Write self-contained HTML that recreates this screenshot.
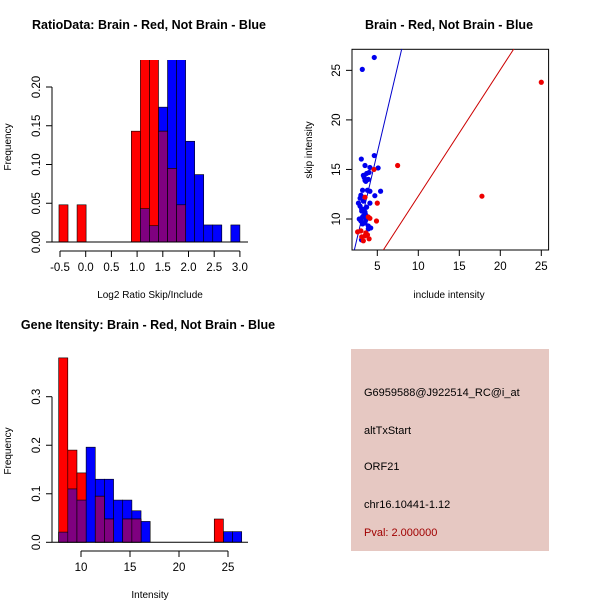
<!DOCTYPE html>
<html><head><meta charset="utf-8"><style>
body{margin:0;background:#fff}
svg{display:block;font-family:"Liberation Sans",sans-serif}
</style></head><body>
<svg id="s" width="600" height="600" viewBox="0 0 600 600">
<rect width="600" height="600" fill="#fff"/>
<defs>
<clipPath id="c1"><rect x="52" y="60" width="196" height="190"/></clipPath>
<clipPath id="c3"><rect x="352" y="49" width="197" height="201"/></clipPath>
</defs>
<text x="149" y="29" font-size="12.5" font-weight="bold" text-anchor="middle">RatioData: Brain - Red, Not Brain - Blue</text>
<text x="449" y="29" font-size="12.5" font-weight="bold" text-anchor="middle">Brain - Red, Not Brain - Blue</text>
<text x="148" y="329" font-size="12.5" font-weight="bold" text-anchor="middle">Gene Itensity: Brain - Red, Not Brain - Blue</text>
<g id="p1"></g>
<g id="p2"></g>
<g id="p3"></g>
<g>
<rect x="351" y="349" width="198" height="202" fill="#e6c8c2"/>
<text x="364" y="396" font-size="11">G6959588@J922514_RC@i_at</text>
<text x="364" y="434" font-size="11">altTxStart</text>
<text x="364" y="470" font-size="11">ORF21</text>
<text x="364" y="508" font-size="11">chr16.10441-1.12</text>
<text x="364" y="536" font-size="11" fill="#a00000">Pval: 2.000000</text>
</g>
</svg>
<script>
// Ratio histogram data
const ratioStart = -0.52, ratioWidth = 0.176;
const ratioRed = [0.048,0,0.048,0,0,0,0,0,0.143,0.25,0.25,0.143,0.095,0.048,0,0,0,0,0,0];
const ratioBlue = [0,0,0,0,0,0,0,0,0,0.043,0.021,0.174,0.25,0.25,0.13,0.087,0.022,0.022,0,0.022];
const ratioXTicks = [-0.5,0,0.5,1,1.5,2,2.5,3];
const ratioXLabels = ["-0.5","0.0","0.5","1.0","1.5","2.0","2.5","3.0"];
const ratioYTicks = [0,0.05,0.1,0.15,0.2];
const ratioYLabels = ["0.00","0.05","0.10","0.15","0.20"];
// Intensity histogram data
const intStart = 7.72, intWidth = 0.934;
const intRed = [0.38,0.19,0.143,0,0.095,0.048,0,0.048,0.048,0,0,0,0,0,0,0,0,0.048,0,0];
const intBlue = [0.021,0.11,0.087,0.196,0.13,0.13,0.087,0.087,0.065,0.043,0,0,0,0,0,0,0,0,0.022,0.022];
const intXTicks = [10,15,20,25];
const intYTicks = [0,0.1,0.2,0.3];
const intYLabels = ["0.0","0.1","0.2","0.3"];
// Scatter data
const blueX = [4.63,3.17,4.63,3.05,3.5,4.1,5.1,3.3,3.7,4.0,3.5,3.9,3.2,4.1,4.7,5.4,2.9,2.7,4.1,3.1,3.5,2.8,3.3,3.6,3.2,3.9,4.2,3.07,3.4,3.6,3.0,3.8,2.9,3.3,3.4,3.6,3.1,3.5,3.9,3.2,3.0,3.7];
const blueY = [26.3,25.1,16.4,16.05,15.4,15.2,15.15,14.4,14.6,14.7,13.9,14.0,12.9,12.8,12.35,12.8,12.1,11.6,11.6,11.0,10.7,10.0,10.3,9.9,9.5,9.3,9.1,7.9,14.2,13.8,12.4,12.9,11.3,11.8,11.0,10.4,10.8,9.6,9.0,10.2,9.8,11.2];
const redX = [25,7.48,17.76,4.6,3.5,5.0,4.1,4.9,2.6,3.0,3.5,3.3,4.0,3.8,3.1,3.6,3.9];
const redY = [23.8,15.4,12.3,15.0,12.2,11.6,10.07,9.8,8.7,8.8,8.3,7.8,8.0,8.4,8.2,8.6,10.2];
const blueLine = [-0.85, 3.51];
const redLine = [-0.44, 1.275];
const scXTicks = [5,10,15,20,25];
const scYTicks = [10,15,20,25];

const NS="http://www.w3.org/2000/svg";
function mk(parent,tag,attrs){const e=document.createElementNS(NS,tag);for(const k in attrs)e.setAttribute(k,attrs[k]);parent.appendChild(e);return e;}

function hist(g,start,width,red,blue,sx,sy,clip){
  const bars=mk(g,'g',clip?{'clip-path':clip}:{});
  blue.forEach((v,i)=>{ if(v<=0)return;
    const r=mk(bars,'rect',{x:sx(start+i*width),y:sy(v),width:sx(start+(i+1)*width)-sx(start+i*width),height:sy(0)-sy(v),fill:'#0000ff',stroke:'#000','stroke-width':0.6});
    
    
  });
  red.forEach((v,i)=>{ if(v<=0)return;
    const x0=sx(start+i*width),w=sx(start+(i+1)*width)-x0;
    const r=mk(bars,'rect',{x:x0,y:sy(v),width:w,height:sy(0)-sy(v),fill:'#ff0000',stroke:'#000','stroke-width':0.6});
    
    
    const m=Math.min(v,blue[i]);
    if(m>0){const p=mk(bars,'rect',{x:x0,y:sy(m),width:w,height:sy(0)-sy(m),fill:'#7f0080',stroke:'#000','stroke-width':0.6});
      
      }
  });
}
function xaxis(g,ticks,labels,sx,y,name){
  const a=mk(g,'g',{});
  
  
  mk(a,'line',{x1:sx(ticks[0]),x2:sx(ticks[ticks.length-1]),y1:y,y2:y,stroke:'#000'});
  ticks.forEach((t,i)=>{mk(a,'line',{x1:sx(t),x2:sx(t),y1:y,y2:y+6,stroke:'#000'});
    const tx=mk(a,'text',{x:sx(t),y:y+20,'font-size':11.5,'text-anchor':'middle'});tx.textContent=labels[i];});
}
function yaxis(g,ticks,labels,sy,x,name){
  const a=mk(g,'g',{});
  
  
  mk(a,'line',{x1:x,x2:x,y1:sy(ticks[0]),y2:sy(ticks[ticks.length-1]),stroke:'#000'});
  ticks.forEach((t,i)=>{mk(a,'line',{x1:x,x2:x-6,y1:sy(t),y2:sy(t),stroke:'#000'});
    const tx=mk(a,'text',{x:x-12,y:sy(t),'font-size':11.5,'text-anchor':'middle',transform:`rotate(-90 ${x-12} ${sy(t)})`});tx.textContent=labels[i];});
}
function label(g,txt,x,y,rot,name){const t=mk(g,'text',{x:x,y:y,'font-size':10,'text-anchor':'middle'});if(rot)t.setAttribute('transform',`rotate(-90 ${x} ${y})`);t.textContent=txt;
  
  }

// Plot 1
{const g=document.getElementById('p1');
 const sx=v=>60+(v+0.5)*51.4, sy=v=>242-v*775;
 hist(g,ratioStart,ratioWidth,ratioRed,ratioBlue,sx,sy,'url(#c1)');
 mk(g,'line',{x1:52,x2:248,y1:242,y2:242,stroke:'#000'});
 xaxis(g,ratioXTicks,ratioXLabels,sx,251,'ratio-x-axis');
 yaxis(g,ratioYTicks,ratioYLabels,sy,52,'ratio-y-axis');
 label(g,'Log2 Ratio Skip/Include',150,298,false,'ratio-x-title');
 label(g,'Frequency',11,147,true,'ratio-y-title');}
// Plot 2
{const g=document.getElementById('p2');
 const sx=v=>81+(v-10)*9.8, sy=v=>542.3-v*485.3;
 hist(g,intStart,intWidth,intRed,intBlue,sx,sy,null);
 mk(g,'line',{x1:52,x2:248,y1:542.3,y2:542.3,stroke:'#000'});
 xaxis(g,intXTicks,intXTicks.map(String),sx,551,'intensity-x-axis');
 yaxis(g,intYTicks,intYLabels,sy,52,'intensity-y-axis');
 label(g,'Intensity',150,598,false,'intensity-x-title');
 label(g,'Frequency',11,451,true,'intensity-y-title');}
// Plot 3
{const g=document.getElementById('p3');
 const sx=v=>377.3+(v-5)*8.2, sy=v=>219-(v-10)*9.91;
 mk(g,'rect',{x:352,y:49.3,width:196.6,height:200.7,fill:'none',stroke:'#000'});
 const cl=mk(g,'g',{'clip-path':'url(#c3)'});
 [[blueLine,'#0000cc','blue-fit-line'],[redLine,'#cc0000','red-fit-line']].forEach(([l,c,n])=>{
   const x0=0,x1=30;
   const e=mk(cl,'line',{x1:sx(x0),y1:sy(l[0]+l[1]*x0),x2:sx(x1),y2:sy(l[0]+l[1]*x1),stroke:c,'stroke-width':1});
   
   
 });
 blueX.forEach((x,i)=>{const c=mk(cl,'circle',{cx:sx(x),cy:sy(blueY[i]),r:2.6,fill:'#0000ee'});
   
   });
 redX.forEach((x,i)=>{const c=mk(cl,'circle',{cx:sx(x),cy:sy(redY[i]),r:2.6,fill:'#ee0000'});
   
   });
 xaxis(g,scXTicks,scXTicks.map(String),sx,250,'scatter-x-axis');
 g.lastChild.firstChild.remove();
 yaxis(g,scYTicks,scYTicks.map(String),sy,352,'scatter-y-axis');
 g.lastChild.firstChild.remove();
 label(g,'include intensity',449,298,false,'scatter-x-title');
 label(g,'skip intensity',312,150,true,'scatter-y-title');}
</script>
</body></html>
